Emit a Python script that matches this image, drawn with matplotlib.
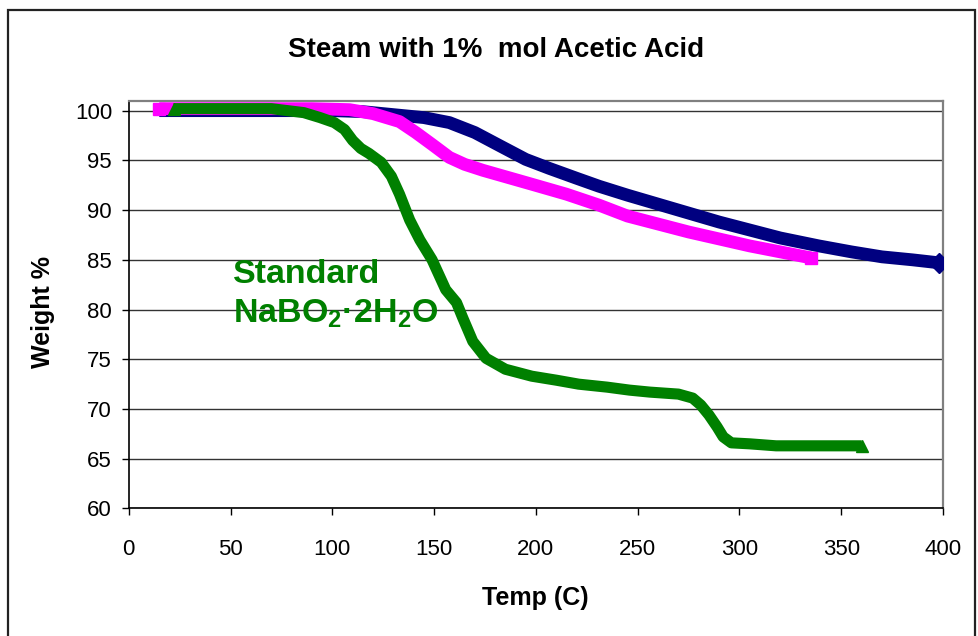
import matplotlib
matplotlib.use("Agg")
from matplotlib import pyplot as plt
from matplotlib.patches import Rectangle

plt.rcParams['font.family'] = ['Liberation Sans', 'DejaVu Sans']
plt.rcParams['mathtext.fontset'] = 'custom'
plt.rcParams['mathtext.rm'] = 'Liberation Sans:bold'
plt.rcParams['mathtext.it'] = 'Liberation Sans:bold'
plt.rcParams['mathtext.bf'] = 'Liberation Sans:bold'

# navy run
navy_temp = [15, 60, 100, 115, 130, 145, 157.5, 170, 182, 195, 206.5, 220, 231,
             245, 260, 275, 290, 305, 320, 339, 355, 370, 385, 398]
navy_wt = [100.0, 100.0, 100.0, 99.9, 99.6, 99.3, 98.8, 97.8, 96.5, 95.1, 94.2,
           93.2, 92.4, 91.5, 90.6, 89.7, 88.8, 88.0, 87.2, 86.4, 85.8, 85.3, 85.0, 84.7]

# magenta run
pink_temp = [15, 60, 90, 108.5, 120, 133, 141, 149, 157.5, 165, 174, 186, 198,
             215, 231, 245, 260, 275, 290, 305, 320, 335]
pink_wt = [100.2, 100.2, 100.2, 100.1, 99.7, 98.9, 97.8, 96.6, 95.3, 94.6, 94.0,
           93.3, 92.6, 91.6, 90.5, 89.4, 88.6, 87.8, 87.1, 86.4, 85.8, 85.2]

# standard NaBO2.2H2O
std_temp = [22, 50, 70, 86, 94, 101, 106, 110, 114, 118, 124, 129, 133, 138, 143,
            149, 155.7, 161, 164, 169, 175.5, 185, 198, 210, 221, 235, 246, 256,
            270, 277, 281, 285, 289, 292, 296, 305, 318, 340, 360]
std_wt = [100.2, 100.2, 100.2, 99.8, 99.3, 98.8, 98.1, 97.0, 96.2, 95.7, 94.8,
          93.4, 91.6, 89.0, 87.0, 85.0, 82.0, 80.7, 79.2, 76.8, 75.1, 74.0, 73.3,
          72.9, 72.5, 72.2, 71.9, 71.7, 71.5, 71.1, 70.4, 69.4, 68.2, 67.2, 66.6,
          66.5, 66.3, 66.3, 66.3]

x_ticks = list(range(0, 401, 50))
y_ticks = list(range(60, 101, 5))

fig = plt.figure(figsize=(9.79, 6.36), dpi=100)
ax = fig.add_axes([0.1315, 0.2005, 0.8318, 0.6407])

ax.plot(navy_temp, navy_wt, color='#000080', lw=9.2, marker='D', ms=10,
        markevery=[-1], solid_capstyle='butt', solid_joinstyle='round', zorder=3)
ax.plot(pink_temp, pink_wt, color='#ff00ff', lw=9.2, marker='s', ms=8,
        markevery=[0, -1], solid_capstyle='butt', solid_joinstyle='round', zorder=4)
ax.plot(std_temp, std_wt, color='#008000', lw=8.0, marker='^', ms=9,
        markevery=[0, -1], solid_capstyle='butt', solid_joinstyle='round', zorder=5)

ax.set_xlim(0, 400)
ax.set_ylim(60, 100.97)
ax.set_xticks(x_ticks)
ax.set_yticks(y_ticks)
ax.tick_params(axis='both', direction='out', length=5, width=1, labelsize=16)
ax.tick_params(axis='x', pad=17)
ax.tick_params(axis='y', pad=7)
ax.grid(axis='y', color='#333333', lw=1)
ax.set_axisbelow(True)

for s in ['left', 'bottom']:
    ax.spines[s].set_color('black')
    ax.spines[s].set_linewidth(1.2)
for s in ['top', 'right']:
    ax.spines[s].set_color('#808080')
    ax.spines[s].set_linewidth(1.6)

ax.text(51.1, 82.7, 'Standard', color='#008000', fontsize=24.5,
        fontweight='bold', va='baseline', ha='left', zorder=6)
ax.text(51.1, 78.65, r'NaBO$_{2}$·2H$_{2}$O', color='#008000', fontsize=24.5,
        fontweight='bold', va='baseline', ha='left', zorder=6)

fig.text(0.507, 1 - 57/636, 'Steam with 1%  mol Acetic Acid', fontsize=20,
         fontweight='bold', ha='center', va='baseline')
fig.text(535/979, 1 - 598/636, 'Temp (C)', fontsize=18, fontweight='bold',
         ha='center', va='center')
fig.text(43/979, 1 - 312/636, 'Weight %', fontsize=18, fontweight='bold',
         ha='center', va='center', rotation=90)

fig.patches.append(Rectangle((8/979, -0.02), 967/979, 1 - 10/636 + 0.02,
                             transform=fig.transFigure, fill=False,
                             edgecolor='#222222', lw=1.6))

plt.savefig('out.png', dpi=100)
plt.close()
